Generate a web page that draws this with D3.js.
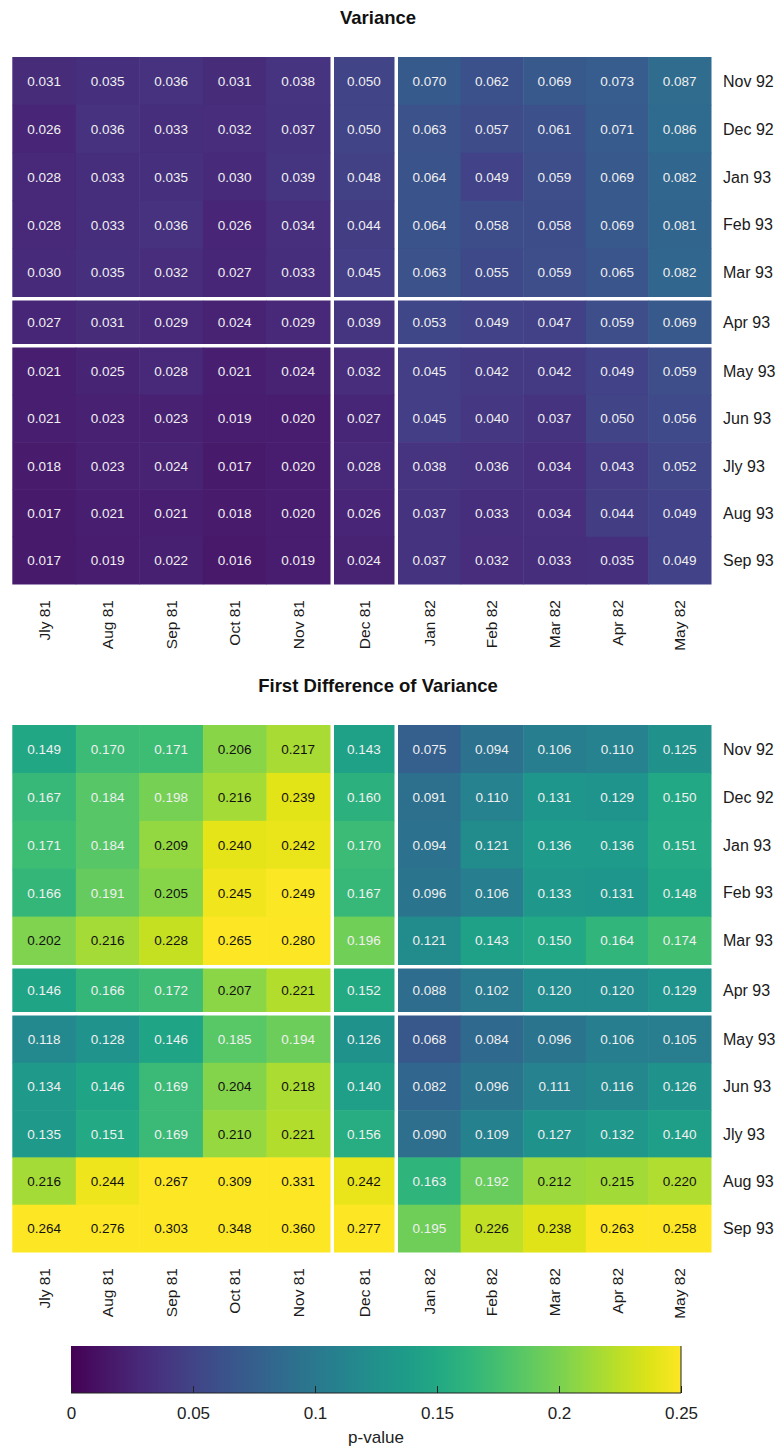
<!DOCTYPE html>
<html>
<head>
<meta charset="utf-8">
<script src="https://cdn.jsdelivr.net/npm/d3@7"></script>
<style>
  html, body { margin: 0; padding: 0; background: #fff; }
  svg { display: block; font-family: "Liberation Sans", Arial, sans-serif; }
</style>
</head>
<body>
<svg id="chart" width="779" height="1448"></svg>
<script>
// Column (start month) and row (end month) labels
const colLabels = ["Jly 81", "Aug 81", "Sep 81", "Oct 81", "Nov 81", "Dec 81",
                   "Jan 82", "Feb 82", "Mar 82", "Apr 82", "May 82"];
const rowLabels = ["Nov 92", "Dec 92", "Jan 93", "Feb 93", "Mar 93", "Apr 93",
                   "May 93", "Jun 93", "Jly 93", "Aug 93", "Sep 93"];

// p-values, one row per end month, one column per start month
const varianceValues = [
  [0.031, 0.035, 0.036, 0.031, 0.038, 0.050, 0.070, 0.062, 0.069, 0.073, 0.087],
  [0.026, 0.036, 0.033, 0.032, 0.037, 0.050, 0.063, 0.057, 0.061, 0.071, 0.086],
  [0.028, 0.033, 0.035, 0.030, 0.039, 0.048, 0.064, 0.049, 0.059, 0.069, 0.082],
  [0.028, 0.033, 0.036, 0.026, 0.034, 0.044, 0.064, 0.058, 0.058, 0.069, 0.081],
  [0.030, 0.035, 0.032, 0.027, 0.033, 0.045, 0.063, 0.055, 0.059, 0.065, 0.082],
  [0.027, 0.031, 0.029, 0.024, 0.029, 0.039, 0.053, 0.049, 0.047, 0.059, 0.069],
  [0.021, 0.025, 0.028, 0.021, 0.024, 0.032, 0.045, 0.042, 0.042, 0.049, 0.059],
  [0.021, 0.023, 0.023, 0.019, 0.020, 0.027, 0.045, 0.040, 0.037, 0.050, 0.056],
  [0.018, 0.023, 0.024, 0.017, 0.020, 0.028, 0.038, 0.036, 0.034, 0.043, 0.052],
  [0.017, 0.021, 0.021, 0.018, 0.020, 0.026, 0.037, 0.033, 0.034, 0.044, 0.049],
  [0.017, 0.019, 0.022, 0.016, 0.019, 0.024, 0.037, 0.032, 0.033, 0.035, 0.049]
];

const firstDiffValues = [
  [0.149, 0.170, 0.171, 0.206, 0.217, 0.143, 0.075, 0.094, 0.106, 0.110, 0.125],
  [0.167, 0.184, 0.198, 0.216, 0.239, 0.160, 0.091, 0.110, 0.131, 0.129, 0.150],
  [0.171, 0.184, 0.209, 0.240, 0.242, 0.170, 0.094, 0.121, 0.136, 0.136, 0.151],
  [0.166, 0.191, 0.205, 0.245, 0.249, 0.167, 0.096, 0.106, 0.133, 0.131, 0.148],
  [0.202, 0.216, 0.228, 0.265, 0.280, 0.196, 0.121, 0.143, 0.150, 0.164, 0.174],
  [0.146, 0.166, 0.172, 0.207, 0.221, 0.152, 0.088, 0.102, 0.120, 0.120, 0.129],
  [0.118, 0.128, 0.146, 0.185, 0.194, 0.126, 0.068, 0.084, 0.096, 0.106, 0.105],
  [0.134, 0.146, 0.169, 0.204, 0.218, 0.140, 0.082, 0.096, 0.111, 0.116, 0.126],
  [0.135, 0.151, 0.169, 0.210, 0.221, 0.156, 0.090, 0.109, 0.127, 0.132, 0.140],
  [0.216, 0.244, 0.267, 0.309, 0.331, 0.242, 0.163, 0.192, 0.212, 0.215, 0.220],
  [0.264, 0.276, 0.303, 0.348, 0.360, 0.277, 0.195, 0.226, 0.238, 0.263, 0.258]
];

const colorTicks = [0, 0.05, 0.1, 0.15, 0.2, 0.25];
const colorDomain = [0, 0.25];

const svg = d3.select("#chart");
const color = d3.scaleSequential(d3.interpolateViridis).domain(colorDomain).clamp(true);

// Blocks of columns / rows separated by white gaps
const colGroups = [[0, 5], [5, 6], [6, 11]];
const rowGroups = [[0, 5], [5, 6], [6, 11]];

// Build a band scale per block so each cell position comes from a scale
function blockScales(labels, groups, extents) {
  return groups.map((g, i) => d3.scaleBand()
    .domain(labels.slice(g[0], g[1]))
    .range(extents[i])
    .paddingInner(0).paddingOuter(0));
}
function locate(scales, label) {
  for (const s of scales) if (s.domain().includes(label)) return s;
  return null;
}

const xExtents = [[12.3, 330], [334, 394], [398, 711]];
const xScales = blockScales(colLabels, colGroups, xExtents);

function drawHeatmap(values, title, top) {
  const yExtents = [[top, top + 239.5], [top + 243.5, top + 286.5], [top + 290.5, top + 527]];
  const yScales = blockScales(rowLabels, rowGroups, yExtents);
  const g = svg.append("g");

  g.append("text")
    .attr("x", 378).attr("y", top - 33)
    .attr("text-anchor", "middle")
    .attr("font-size", 18.5).attr("font-weight", "bold")
    .attr("fill", "#111")
    .text(title);

  const cells = [];
  values.forEach((row, ri) => row.forEach((v, ci) => cells.push({ r: rowLabels[ri], c: colLabels[ci], v })));

  const cell = g.selectAll("g.cell").data(cells).join("g").attr("class", "cell");
  cell.append("rect")
    .attr("x", d => locate(xScales, d.c)(d.c))
    .attr("y", d => locate(yScales, d.r)(d.r))
    .attr("width", d => locate(xScales, d.c).bandwidth() + 0.5)
    .attr("height", d => locate(yScales, d.r).bandwidth() + 0.5)
    .attr("fill", d => color(d.v));
  cell.append("text")
    .attr("x", d => locate(xScales, d.c)(d.c) + locate(xScales, d.c).bandwidth() / 2)
    .attr("y", d => locate(yScales, d.r)(d.r) + locate(yScales, d.r).bandwidth() / 2)
    .attr("dy", "0.36em")
    .attr("text-anchor", "middle")
    .attr("font-size", 13.5)
    .attr("fill", d => d.v > 0.2 ? "#111" : "#f0f0f0")
    .text(d => d.v.toFixed(3));

  // Row labels on the right
  g.selectAll("text.rowlab").data(rowLabels).join("text")
    .attr("class", "rowlab")
    .attr("x", 723)
    .attr("y", d => locate(yScales, d)(d) + locate(yScales, d).bandwidth() / 2)
    .attr("dy", "0.36em")
    .attr("font-size", 16)
    .attr("fill", "#1a1a1a")
    .text(d => d);

  // Column labels below, rotated
  const bottom = yExtents[2][1];
  g.selectAll("text.collab").data(colLabels).join("text")
    .attr("class", "collab")
    .attr("transform", d => {
      const s = locate(xScales, d);
      return `translate(${s(d) + s.bandwidth() / 2},${bottom + 16}) rotate(-90)`;
    })
    .attr("dy", "0.36em")
    .attr("text-anchor", "end")
    .attr("font-size", 15.5)
    .attr("fill", "#1a1a1a")
    .text(d => d);
}

drawHeatmap(varianceValues, "Variance", 57);
drawHeatmap(firstDiffValues, "First Difference of Variance", 725);

// Colour bar
const cb = { x0: 71, x1: 681, y0: 1346, y1: 1393 };
const cbScale = d3.scaleLinear().domain(colorDomain).range([cb.x0, cb.x1]);
const defs = svg.append("defs");
const grad = defs.append("linearGradient").attr("id", "viridisGrad")
  .attr("x1", "0%").attr("x2", "100%").attr("y1", "0%").attr("y2", "0%");
d3.range(0, 1.0001, 0.05).forEach(t => {
  grad.append("stop").attr("offset", `${t * 100}%`)
    .attr("stop-color", color(colorDomain[0] + t * (colorDomain[1] - colorDomain[0])));
});
svg.append("rect")
  .attr("x", cb.x0).attr("y", cb.y0)
  .attr("width", cb.x1 - cb.x0).attr("height", cb.y1 - cb.y0)
  .attr("fill", "url(#viridisGrad)");

const cbAxis = d3.axisBottom(cbScale)
  .tickValues(colorTicks)
  .tickFormat(d => String(+d.toFixed(2)))
  .tickSize(7).tickSizeOuter(0);
const axG = svg.append("g")
  .attr("transform", `translate(0,${cb.y1 - 7})`)
  .call(cbAxis);
axG.select(".domain").attr("stroke", "#222").attr("d", `M${cb.x0},7H${cb.x1}`);
axG.selectAll(".tick line").attr("stroke", "#222").attr("y1", 0).attr("y2", 7);
axG.selectAll(".tick text")
  .attr("y", 21)
  .attr("font-size", 17)
  .attr("font-family", "'Liberation Sans', Arial, sans-serif")
  .attr("fill", "#222");
svg.append("line")
  .attr("x1", cb.x1).attr("x2", cb.x1).attr("y1", cb.y0).attr("y2", cb.y1)
  .attr("stroke", "#222");

svg.append("text")
  .attr("x", (cb.x0 + cb.x1) / 2).attr("y", 1443)
  .attr("text-anchor", "middle")
  .attr("font-size", 17)
  .attr("fill", "#222")
  .text("p-value");
</script>
</body>
</html>
